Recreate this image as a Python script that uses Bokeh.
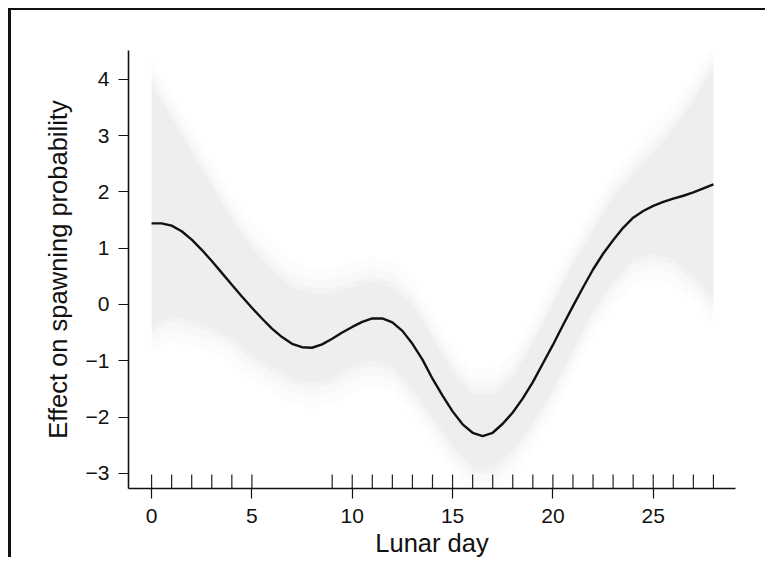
from bokeh.plotting import figure
from bokeh.models import Range1d, FixedTicker
from bokeh.embed import file_html
from bokeh.resources import INLINE

# ---- data ----
curve_day = [0, 0.5, 1, 1.5, 2, 2.5, 3, 3.5, 4, 4.5, 5, 5.5, 6, 6.5, 7, 7.5, 8, 8.5, 9, 9.5,
             10, 10.5, 11, 11.5, 12, 12.5, 13, 13.5, 14, 14.5, 15, 15.5, 16, 16.5, 17, 17.5,
             18, 18.5, 19, 19.5, 20, 20.5, 21, 21.5, 22, 22.5, 23, 23.5, 24, 24.5, 25, 25.5,
             26, 26.5, 27, 27.5, 28]
curve_effect = [1.44, 1.44, 1.40, 1.30, 1.15, 0.97, 0.77, 0.56, 0.35, 0.14, -0.06, -0.25,
                -0.43, -0.58, -0.70, -0.76, -0.77, -0.71, -0.61, -0.50, -0.40, -0.31, -0.25,
                -0.25, -0.32, -0.47, -0.70, -0.98, -1.32, -1.62, -1.90, -2.13, -2.28, -2.34,
                -2.28, -2.12, -1.92, -1.67, -1.38, -1.05, -0.72, -0.37, -0.03, 0.30, 0.62,
                0.90, 1.14, 1.36, 1.54, 1.66, 1.75, 1.82, 1.88, 1.93, 1.99, 2.06, 2.13]

band_day = list(range(0, 29))
band_upper = [3.9, 3.3, 2.7, 2.1, 1.5, 1.0, 0.6, 0.3, 0.2, 0.2, 0.3, 0.4, 0.3, 0.0, -0.6,
              -1.2, -1.6, -1.6, -1.3, -0.7, 0.0, 0.7, 1.3, 1.9, 2.3, 2.7, 3.1, 3.6, 4.2]
band_lower = [-0.4, -0.2, -0.3, -0.4, -0.6, -0.9, -1.1, -1.3, -1.4, -1.3, -1.1, -1.0, -1.1,
              -1.5, -2.0, -2.5, -2.9, -2.9, -2.6, -2.1, -1.5, -0.8, -0.1, 0.4, 0.8, 0.9, 0.8,
              0.5, 0.1]

rug_days = [0, 1, 2, 3, 4, 5, 9, 10, 11, 12, 13, 14, 15, 16, 17, 18, 19, 20, 21, 22, 23,
            24, 25, 26, 27, 28]

x_ticks = [0, 5, 10, 15, 20, 25]
y_ticks = [-3, -2, -1, 0, 1, 2, 3, 4]
y_tick_labels = ["\u22123", "\u22122", "\u22121", "0", "1", "2", "3", "4"]

x_label = "Lunar day"
y_label = "Effect on spawning probability"

# ---- figure ----
X0, X1 = -1.15, 29.1
Y0, Y1 = -3.27, 4.51
FONT = "Liberation Sans"

p = figure(width=757, height=549, output_backend="svg", toolbar_location=None,
           x_range=Range1d(X0, X1), y_range=Range1d(Y0, Y1),
           min_border_left=117, min_border_right=33, min_border_top=40,
           min_border_bottom=69)
p.styles = {"border-top": "2px solid #111", "border-left": "3px solid #111",
            "margin-left": "8px", "margin-top": "8px"}
p.outline_line_color = None
p.xgrid.visible = False
p.ygrid.visible = False
p.background_fill_color = "white"
p.border_fill_color = "white"

# blurred confidence band: layered translucent fills
halo = [(0.45, 0.012), (0.25, 0.015), (0.1, 0.018), (0.0, 0.018)]
for pad, a in halo:
    up = [u + pad for u in band_upper]
    lo = [l - pad for l in band_lower]
    p.varea(x=band_day, y1=lo, y2=up, fill_color="black", fill_alpha=a)

p.line(curve_day, curve_effect, line_color="#111111", line_width=2.4)

# rug along the bottom axis
rug_len = 14 / (439 / (Y1 - Y0))
p.segment(x0=rug_days, x1=rug_days, y0=[Y0] * len(rug_days),
          y1=[Y0 + rug_len] * len(rug_days), line_color="#222222", line_width=1.2)

for ax in (p.xaxis, p.yaxis):
    ax.axis_line_color = "#111111"
    ax.axis_line_width = 1.6
    ax.major_tick_line_color = "#111111"
    ax.major_tick_line_width = 1.2
    ax.major_tick_in = 0
    ax.major_tick_out = 10
    ax.minor_tick_line_color = None
    ax.major_label_text_font = FONT
    ax.major_label_text_font_size = "21px"
    ax.major_label_text_color = "#111111"
    ax.axis_label_text_font = FONT
    ax.axis_label_text_font_size = "25.5px"
    ax.axis_label_text_font_style = "normal"
    ax.axis_label_text_color = "#111111"

p.xaxis.ticker = FixedTicker(ticks=x_ticks)
p.yaxis.ticker = FixedTicker(ticks=y_ticks)
p.yaxis.major_label_overrides = {t: s for t, s in zip(y_ticks, y_tick_labels)}
p.xaxis.axis_label = x_label
p.yaxis.axis_label = y_label
p.xaxis.major_label_standoff = 10
p.yaxis.major_label_standoff = 9
p.xaxis.axis_label_standoff = 3
p.yaxis.axis_label_standoff = 11

open("out.html", "w").write(file_html(p, INLINE))
